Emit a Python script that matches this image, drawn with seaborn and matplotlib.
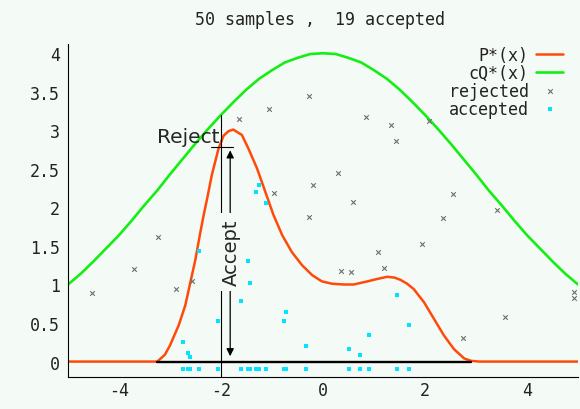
import matplotlib
matplotlib.use("Agg")
import matplotlib.pyplot as plt
import seaborn as sns

title = "50 samples ,  19 accepted"

# target density P*(x)
p_x = [-5.0, -3.25, -3.19, -3.10, -3.00, -2.83, -2.70, -2.60, -2.50, -2.41,
       -2.34, -2.27, -2.18, -2.05, -1.95, -1.85, -1.76, -1.59, -1.46, -1.29,
       -1.13, -0.97, -0.80, -0.61, -0.41, -0.21, -0.02, 0.18, 0.41, 0.60,
       0.87, 1.05, 1.26, 1.40, 1.52, 1.65, 1.78, 1.98, 2.18,
       2.37, 2.57, 2.77, 2.90, 3.06, 5.0]
p_y = [0.0, 0.0, 0.035, 0.09, 0.21, 0.47, 0.73, 1.03, 1.33, 1.66,
       1.90, 2.12, 2.42, 2.76, 2.93, 2.99, 3.01, 2.94, 2.76, 2.50,
       2.20, 1.90, 1.64, 1.42, 1.25, 1.12, 1.04, 1.01, 1.00, 1.00,
       1.04, 1.07, 1.10, 1.09, 1.06, 1.01, 0.94, 0.77, 0.55,
       0.34, 0.16, 0.04, 0.01, 0.0, 0.0]

# scaled proposal cQ*(x)
q_x = [-5.0, -4.75, -4.5, -4.25, -4.0, -3.75, -3.5, -3.25, -3.0, -2.75,
       -2.5, -2.25, -2.0, -1.75, -1.5, -1.25, -1.0, -0.75, -0.5, -0.25,
       0.0, 0.25, 0.5, 0.75, 1.0, 1.25, 1.5, 1.75, 2.0, 2.25,
       2.5, 2.75, 3.0, 3.25, 3.5, 3.75, 4.0, 4.25, 4.5, 4.75, 5.0]
q_y = [1.00, 1.14, 1.30, 1.47, 1.64, 1.83, 2.03, 2.22, 2.43, 2.63,
       2.83, 3.02, 3.20, 3.37, 3.53, 3.67, 3.78, 3.88, 3.94, 3.99,
       4.00, 3.99, 3.94, 3.88, 3.78, 3.67, 3.53, 3.37, 3.20, 3.02,
       2.83, 2.63, 2.43, 2.22, 2.03, 1.83, 1.64, 1.47, 1.30, 1.14, 1.00]

# samples lying above P*(x)
rej_x = [-1.65, -1.06, -0.27, -0.96, -0.20, -0.28, 0.85, 1.34, 1.44, 2.08,
         0.30, 0.59, 2.55, 3.41, 2.35, -3.24, -3.70, -4.52, -2.89, -2.57,
         1.95, 1.07, 1.19, 0.35, 0.55, 2.75, 3.57, 4.93, 4.93]
rej_y = [3.15, 3.28, 3.45, 2.19, 2.29, 1.88, 3.17, 3.07, 2.86, 3.12,
         2.45, 2.07, 2.17, 1.97, 1.86, 1.62, 1.20, 0.89, 0.94, 1.04,
         1.52, 1.42, 1.22, 1.17, 1.16, 0.30, 0.58, 0.90, 0.83]

# samples lying under P*(x)
acc_x = [-1.26, -1.31, -1.11, -2.43, -2.75, -2.65, -2.60, -2.05, -1.48, -1.44,
         -1.61, -0.72, -0.76, -0.34, 0.50, 0.72, 0.91, 1.46, 1.69]
acc_y = [2.29, 2.20, 2.06, 1.43, 0.25, 0.11, 0.06, 0.53, 1.30, 1.02,
         0.79, 0.64, 0.53, 0.20, 0.16, 0.09, 0.35, 0.86, 0.48]
rug_level = -0.1

support_x = [-3.25, 2.90]

# the worked example at x = -2
demo_x = -2.0
demo_q = 3.20
demo_p = 2.79

x_ticks = [-4, -2, 0, 2, 4]
x_ticklabels = ["-4", "-2", "0", "2", "4"]
y_ticks = [0, 0.5, 1, 1.5, 2, 2.5, 3, 3.5, 4]
y_ticklabels = ["0", "0.5", "1", "1.5", "2", "2.5", "3", "3.5", "4"]

BG = "#f4faf5"
RED = "#ff4a0a"
GREEN = "#14ee14"
GRAY = "#6e6e6e"
CYAN = "#00e4ff"
MONO = "DejaVu Sans Mono"

sns.set_style("white", {"axes.facecolor": BG, "figure.facecolor": BG})

fig = plt.figure(figsize=(5.8, 4.1), dpi=100)
ax = fig.add_axes([68 / 580, 1 - 378 / 410, 510 / 580, 333 / 410])

sns.lineplot(x=p_x, y=p_y, ax=ax, color=RED, lw=1.8, sort=False,
             estimator=None, label="P*(x)")
sns.lineplot(x=q_x, y=q_y, ax=ax, color=GREEN, lw=1.9, sort=False,
             estimator=None, label="cQ*(x)")
ax.plot(support_x, [0, 0], color="black", lw=1.7, zorder=3)

sns.scatterplot(x=rej_x, y=rej_y, ax=ax, marker="x", color=GRAY, s=11,
                linewidth=0.8, label="rejected", zorder=4)
sns.scatterplot(x=acc_x, y=acc_y, ax=ax, marker="s", color=CYAN, s=9,
                linewidth=0, label="accepted", zorder=4)
sns.scatterplot(x=acc_x, y=[rug_level] * len(acc_x), ax=ax, marker="s",
                color=CYAN, s=9, linewidth=0, legend=False, zorder=4)

# vertical guide and the level of P*(x) at the example point
ax.plot([demo_x, demo_x], [-0.2, demo_q], color="black", lw=0.8, zorder=5)
ax.plot([demo_x - 0.19, demo_x + 0.24], [demo_p, demo_p], color="black",
        lw=0.8, zorder=5)
ax.annotate("", xy=(-1.82, demo_p - 0.05), xytext=(-1.82, 0.07),
            arrowprops=dict(arrowstyle="<|-|>", color="black", lw=0.9,
                            mutation_scale=11, shrinkA=0, shrinkB=0),
            zorder=5)
ax.text(-1.80, 1.42, "Accept", rotation=90, ha="center", va="center",
        fontsize=14, family="DejaVu Sans", zorder=6,
        bbox=dict(facecolor=BG, edgecolor="none", pad=4))
ax.text(-2.03, 2.85, "Reject", ha="right", va="baseline", fontsize=14.5,
        family="DejaVu Sans", zorder=6)

ax.set_xlim(-5, 5)
ax.set_ylim(-0.2, 4.12)
ax.set_xticks(x_ticks)
ax.set_xticklabels(x_ticklabels, family=MONO, fontsize=12)
ax.set_yticks(y_ticks)
ax.set_yticklabels(y_ticklabels, family=MONO, fontsize=12)
ax.tick_params(axis="both", direction="in", length=4, width=0.8,
               color="black", labelcolor="#222222")
ax.tick_params(axis="y", pad=6)
ax.tick_params(axis="x", pad=3)
for side in ("top", "right"):
    ax.spines[side].set_visible(False)
for side in ("left", "bottom"):
    ax.spines[side].set_color("black")
    ax.spines[side].set_linewidth(0.8)

handles, labels = ax.get_legend_handles_labels()
ax.legend(handles, labels, loc="upper right", bbox_to_anchor=(0.9706, 0.995),
          frameon=False, markerfirst=False, scatterpoints=1,
          prop={"family": MONO, "size": 12}, labelcolor="#222222",
          handlelength=1.6, handletextpad=0.45, labelspacing=0.0,
          borderpad=0, borderaxespad=0)

fig.text(320 / 580, 1 - 20 / 410, title, ha="center", va="center",
         family=MONO, fontsize=12, color="#222222")

fig.savefig("out.png", dpi=100, facecolor=BG)
